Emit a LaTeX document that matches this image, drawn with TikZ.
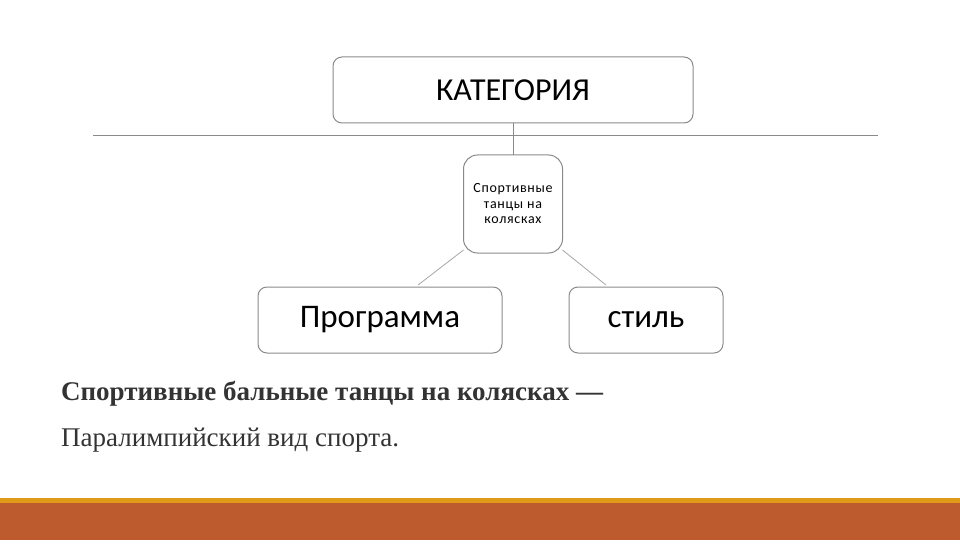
\documentclass[tikz,border=0pt]{standalone}
\usepackage{fontspec}
\setmainfont{Liberation Serif}
\newfontfamily\boxfont{Carlito}
\newfontfamily\smallboxfont[LetterSpace=5]{Carlito}
\usetikzlibrary{positioning,calc}
\definecolor{framegray}{HTML}{8A8A8A}
\definecolor{linkgray}{HTML}{A6A6A6}
\definecolor{textgray}{HTML}{333333}
\definecolor{barorange}{HTML}{E09A1A}
\definecolor{barbrown}{HTML}{BE5B2E}
\begin{document}
\begin{tikzpicture}[x=1pt, y=-1pt,
    catbox/.style={draw=framegray, line width=1pt, rounded corners=9pt,
      outer sep=0pt, minimum width=360pt, minimum height=66pt,
      font=\boxfont\fontsize{32pt}{38pt}\selectfont},
    topicbox/.style={draw=framegray, line width=1pt, rounded corners=14pt,
      outer sep=0pt, minimum width=99pt, minimum height=98pt, align=center,
      font=\smallboxfont\fontsize{14pt}{15.5pt}\selectfont},
    itembox/.style={draw=framegray, line width=1pt, rounded corners=9pt,
      outer sep=0pt, minimum height=66pt,
      font=\boxfont\fontsize{33pt}{38pt}\selectfont},
    rule/.style={draw=framegray, line width=1pt},
    link/.style={draw=linkgray, line width=0.8pt},
    caption/.style={anchor=base west, inner sep=0pt, text=textgray,
      font=\fontsize{27pt}{32pt}\selectfont} ]
    \useasboundingbox (0,0) rectangle (960,540);

    % Footer bars
    \fill[barorange] (0,498) rectangle (960,503);
    \fill[barbrown] (0,503) rectangle (960,540);

    % Boxes
    \node[catbox] (cat) at (513,90) {КАТЕГОРИЯ};
    \node[topicbox] (topic) at (513,204) {Спортивные\\танцы на\\колясках};
    \node[itembox, minimum width=244pt] (prog) at (380,320) {Программа};
    \node[itembox, minimum width=154pt] (stil) at (646,320) {стиль};

    % Separator and links
    \draw[rule] (93,136) -- (878,136);
    \draw[rule] (cat) -- (topic);
    \draw[link] ($(topic.south west)+(0,-3)$) --
    ($(prog.north west)!0.656!(prog.north east)+(0,-2)$);
    \draw[link] ($(topic.south east)+(0,-3)$) --
    ($(stil.north west)!0.24!(stil.north east)+(0,-2)$);

    % Caption
    \node[caption] (capa) at (61,400) {\bfseries Спортивные бальные танцы на колясках —};
    \node[caption] (capb) at (61,446) {Паралимпийский вид спорта.};

\end{tikzpicture}
\end{document}
